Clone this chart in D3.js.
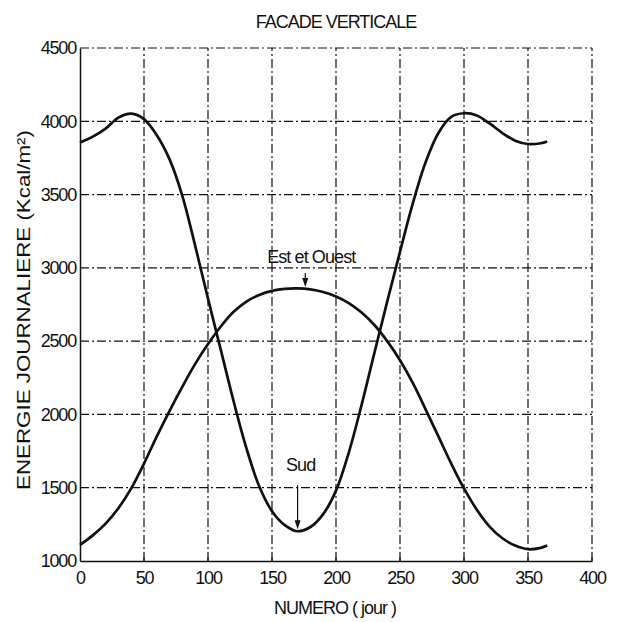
<!DOCTYPE html>
<html>
<head>
<meta charset="utf-8">
<script src="https://cdn.jsdelivr.net/npm/d3@7"></script>
<style>
  html, body { margin: 0; padding: 0; background: #fff; }
  svg { display: block; }
  text { font-family: "Liberation Sans", Arial, sans-serif; fill: #111; }
</style>
</head>
<body>
<svg id="chart" width="617" height="622"></svg>
<script>
// Day of year (every 10 days, plus the last day)
const days = [0, 10, 20, 30, 40, 50, 60, 70, 80, 90, 100, 110, 120, 130, 140, 150, 160, 170, 180,
              190, 200, 210, 220, 230, 240, 250, 260, 270, 280, 290, 300, 310, 320, 330, 340, 350, 360, 365];

// Daily energy on a south-facing vertical facade (Kcal/m²)
const sud = [3855, 3895, 3950, 4025, 4052, 4015, 3905, 3740, 3490, 3150, 2790, 2440, 2090, 1770, 1510, 1340, 1245, 1203, 1232,
             1320, 1480, 1740, 2065, 2420, 2770, 3110, 3440, 3720, 3920, 4030, 4055, 4040, 3985, 3920, 3868, 3845, 3850, 3862];

// Daily energy on east / west facing vertical facades (Kcal/m²)
const estOuest = [1110, 1175, 1255, 1360, 1495, 1665, 1850, 2025, 2190, 2345, 2480, 2600, 2700, 2770, 2815, 2843, 2857, 2860, 2853,
                  2835, 2805, 2760, 2695, 2610, 2500, 2370, 2215, 2035, 1850, 1665, 1495, 1350, 1235, 1155, 1105, 1080, 1090, 1105];

const xTicks = [0, 50, 100, 150, 200, 250, 300, 350, 400];
const yTicks = [1000, 1500, 2000, 2500, 3000, 3500, 4000, 4500];

// Curve annotations: label, day the arrow points at, series it points to
const notes = [
  { label: "Est et Ouest", day: 176, series: "estOuest", gap: 14, textGap: 10, shift: 6 },
  { label: "Sud", day: 170, series: "sud", gap: 44, textGap: 14, shift: 3 }
];

const svg = d3.select("#chart");
const margin = { left: 80, right: 25, top: 48, bottom: 61 };
const W = 617, H = 622;

const x = d3.scaleLinear().domain([0, 400]).range([margin.left, W - margin.right]);
const y = d3.scaleLinear().domain([1000, 4500]).range([H - margin.bottom, margin.top]);

const dash = "9,3,2,3";

// Grid (dash-dot)
const grid = svg.append("g");
grid.selectAll("line.vg").data(xTicks.filter(d => d > 0)).join("line")
  .attr("x1", d => x(d)).attr("x2", d => x(d))
  .attr("y1", y(1000)).attr("y2", y(4500))
  .attr("stroke", "#111").attr("stroke-width", 1.2).attr("stroke-dasharray", dash);
grid.selectAll("line.hg").data(yTicks.filter(d => d > 1000)).join("line")
  .attr("x1", x(0)).attr("x2", x(400))
  .attr("y1", d => y(d)).attr("y2", d => y(d))
  .attr("stroke", "#111").attr("stroke-width", 1.2).attr("stroke-dasharray", dash);

// Axes
const xAxis = d3.axisBottom(x).tickValues(xTicks).tickSize(0).tickPadding(10).tickFormat(d3.format("d"));
const yAxis = d3.axisLeft(y).tickValues(yTicks).tickSize(0).tickPadding(5).tickFormat(d3.format("d"));

const gx = svg.append("g").attr("transform", `translate(0,${y(1000)})`).call(xAxis);
const gy = svg.append("g").attr("transform", `translate(${x(0)},0)`).call(yAxis);
[gx, gy].forEach(g => {
  g.select(".domain").attr("stroke", "#111").attr("stroke-width", 1.5);
  g.selectAll("text").attr("font-size", 18).attr("letter-spacing", "-1.2px")
    .attr("font-family", "Liberation Sans, Arial, sans-serif").attr("fill", "#111");
});
gy.selectAll("text").attr("dx", "1px");

// Small inward tick marks on the bottom axis
svg.append("g").selectAll("line").data(xTicks.slice(1)).join("line")
  .attr("x1", d => x(d)).attr("x2", d => x(d))
  .attr("y1", y(1000)).attr("y2", y(1000) - 4)
  .attr("stroke", "#111").attr("stroke-width", 1.2);

// Curves
const line = d3.line()
  .x((d, i) => x(days[i]))
  .y(d => y(d))
  .curve(d3.curveCatmullRom.alpha(0.5));

const seriesMap = { sud, estOuest };
svg.append("path").datum(sud).attr("d", line)
  .attr("fill", "none").attr("stroke", "#111").attr("stroke-width", 2.7);
svg.append("path").datum(estOuest).attr("d", line)
  .attr("fill", "none").attr("stroke", "#111").attr("stroke-width", 2.7);

// Value of a series at a given day (linear between samples)
function valueAt(series, day) {
  const i = d3.bisectRight(days, day) - 1;
  const j = Math.min(i + 1, days.length - 1);
  if (i === j) return series[i];
  const t = (day - days[i]) / (days[j] - days[i]);
  return series[i] + t * (series[j] - series[i]);
}

// Annotations with arrows
notes.forEach(n => {
  const v = valueAt(seriesMap[n.series], n.day);
  const px = x(n.day);
  const py = y(v) - 2;
  const top = py - n.gap;
  svg.append("line").attr("x1", px).attr("x2", px).attr("y1", top).attr("y2", py - 8)
    .attr("stroke", "#111").attr("stroke-width", 1.2);
  svg.append("path")
    .attr("d", `M${px - 3},${py - 9} L${px + 3},${py - 9} L${px},${py} Z`)
    .attr("fill", "#111");
  svg.append("text").attr("x", px + n.shift).attr("y", top - n.textGap)
    .attr("text-anchor", "middle").attr("font-size", 18).attr("letter-spacing", "-0.9px")
    .text(n.label);
});

// Title and axis labels
svg.append("text").attr("x", 336).attr("y", 28).attr("text-anchor", "middle")
  .attr("font-size", 18).attr("letter-spacing", "-1px").text("FACADE VERTICALE");
svg.append("text").attr("x", 335).attr("y", 614).attr("text-anchor", "middle")
  .attr("font-size", 18).attr("letter-spacing", "-1px").text("NUMERO ( jour )");
svg.append("text").attr("transform", `translate(30,310) rotate(-90)`)
  .attr("text-anchor", "middle").attr("font-size", 19)
  .attr("textLength", 360).attr("lengthAdjust", "spacingAndGlyphs")
  .text("ENERGIE JOURNALIERE (Kcal/m²)");
</script>
</body>
</html>
